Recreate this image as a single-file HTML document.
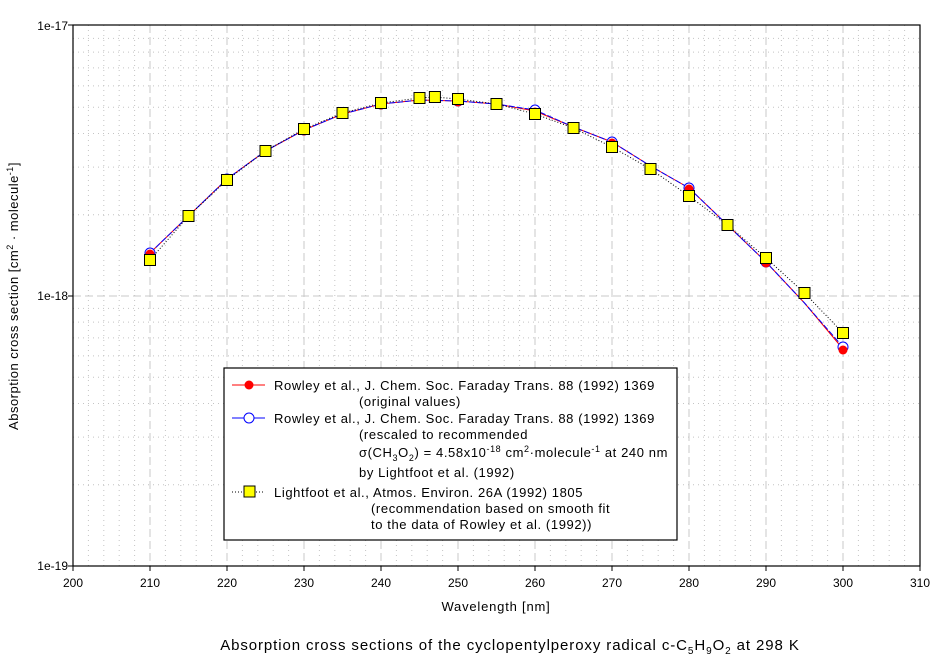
<!DOCTYPE html>
<html><head><meta charset="utf-8"><style>
body{margin:0;background:#fff;}
svg text{font-family:"Liberation Sans",Arial,sans-serif;fill:#000;}
</style></head><body>
<svg width="944" height="662" xmlns="http://www.w3.org/2000/svg">
<g id="grid"></g>
<g id="data"></g>
<rect x="73" y="25" width="847" height="541" fill="none" stroke="#000" stroke-width="1.2"/>
<g font-size="12" text-anchor="end">
<text x="68" y="30">1e-17</text>
<text x="68" y="300">1e-18</text>
<text x="68" y="570">1e-19</text>
</g>
<g id="xt" font-size="12" text-anchor="middle"></g>
<text x="496" y="611" font-size="13" text-anchor="middle" letter-spacing="0.8">Wavelength [nm]</text>
<text transform="translate(18,296) rotate(-90)" font-size="13" text-anchor="middle" letter-spacing="0.5">Absorption cross section [cm<tspan font-size="9" dy="-5">2</tspan><tspan dy="5"> · molecule</tspan><tspan font-size="9" dy="-5">-1</tspan><tspan dy="5">]</tspan></text>
<text x="510" y="650" font-size="15" text-anchor="middle" letter-spacing="0.9">Absorption cross sections of the cyclopentylperoxy radical c-C<tspan font-size="10" dy="4">5</tspan><tspan dy="-4">H</tspan><tspan font-size="10" dy="4">9</tspan><tspan dy="-4">O</tspan><tspan font-size="10" dy="4">2</tspan><tspan dy="-4">  at 298 K</tspan></text>
<rect x="224" y="368" width="453" height="172" fill="#fff" stroke="#000" stroke-width="1.2"/>
<g font-size="13" letter-spacing="0.6">
<line x1="232" y1="385" x2="265" y2="385" stroke="red"/><circle cx="249" cy="385" r="4.5" fill="red"/>
<text x="274" y="390">Rowley et al., J. Chem. Soc. Faraday Trans. 88 (1992) 1369</text>
<text x="359" y="406">(original values)</text>
<line x1="232" y1="418" x2="265" y2="418" stroke="blue"/><circle cx="249" cy="418" r="5" fill="#fff" stroke="blue"/>
<text x="274" y="423">Rowley et al., J. Chem. Soc. Faraday Trans. 88 (1992) 1369</text>
<text x="359" y="439">(rescaled to recommended</text>
<text x="359" y="457">σ(CH<tspan font-size="9" dy="4">3</tspan><tspan dy="-4">O</tspan><tspan font-size="9" dy="4">2</tspan><tspan dy="-4">) = 4.58x10</tspan><tspan font-size="9" dy="-5">-18</tspan><tspan dy="5"> cm</tspan><tspan font-size="9" dy="-5">2</tspan><tspan dy="5">·molecule</tspan><tspan font-size="9" dy="-5">-1</tspan><tspan dy="5"> at 240 nm</tspan></text>
<text x="359" y="477">by Lightfoot et al. (1992)</text>
<line x1="232" y1="492" x2="265" y2="492" stroke="#000" stroke-dasharray="1,2"/><rect x="244" y="486" width="11" height="11" fill="#ff0" stroke="#000"/>
<text x="274" y="497">Lightfoot et al., Atmos. Environ. 26A (1992) 1805</text>
<text x="371" y="513">(recommendation based on smooth fit</text>
<text x="371" y="529">to the data of Rowley et al. (1992))</text>
</g>
</svg>
<script>
const ns="http://www.w3.org/2000/svg";
function el(p,t,a){const e=document.createElementNS(ns,t);for(const k in a)e.setAttribute(k,a[k]);p.appendChild(e);return e;}
const X=n=>73+(n-200)*7.7;
const g=document.getElementById('grid'),d=document.getElementById('data'),xt=document.getElementById('xt');
for(let n=202;n<310;n+=2){if(n%10==0)continue;el(g,'line',{x1:X(n),x2:X(n),y1:25,y2:566,stroke:'#c4c4c4','stroke-dasharray':'1,4'});}
for(let k=0;k<2;k++)for(let m=2;m<10;m++){const y=566-270*(k+Math.log10(m));el(g,'line',{x1:73,x2:920,y1:y,y2:y,stroke:'#c4c4c4','stroke-dasharray':'1,4'});}
for(let n=210;n<310;n+=10)el(g,'line',{x1:X(n),x2:X(n),y1:25,y2:566,stroke:'#c8c8c8','stroke-dasharray':'8,4'});
el(g,'line',{x1:73,x2:920,y1:296,y2:296,stroke:'#c8c8c8','stroke-dasharray':'8,4'});
for(let n=200;n<=310;n+=10){el(g,'line',{x1:X(n),x2:X(n),y1:566,y2:571,stroke:'#000'});const t=el(xt,'text',{x:X(n),y:587});t.textContent=n;}
[25,296,566].forEach(y=>el(g,'line',{x1:68,x2:73,y1:y,y2:y,stroke:'#000'}));
const rb=[[210,253],[215,216],[220,179],[225,151],[230,130],[235,114],[240,104],[245,100],[250,101],[255,104],[260,111],[265,127],[270,142],[275,166],[280,188],[285,225],[290,262],[295,303],[300,349]];
const bb=rb.map(p=>[p[0],p[1]-(p[0]==260?1:p[0]==300?2:0)]);
const yb=[[210,260],[215,216],[220,180],[225,151],[230,129],[235,113],[240,103],[245,98],[247,97],[250,99],[255,104],[260,114],[265,128],[270,147],[275,169],[280,196],[285,225],[290,258],[295,293],[300,333]];
const pts=a=>a.map(p=>X(p[0])+','+p[1]).join(' ');
el(d,'polyline',{points:pts(rb),fill:'none',stroke:'red'});
el(d,'polyline',{points:pts(bb),fill:'none',stroke:'blue','stroke-dasharray':'6,2'});
el(d,'polyline',{points:pts(yb),fill:'none',stroke:'#000','stroke-dasharray':'1,2'});
bb.forEach(p=>{if(p[0]%10==0)el(d,'circle',{cx:X(p[0]),cy:p[1],r:5,fill:'#fff',stroke:'blue'});});
rb.forEach(p=>{if(p[0]%10==0)el(d,'circle',{cx:X(p[0]),cy:p[1]+1,r:4.5,fill:'red'});});
yb.forEach(p=>el(d,'rect',{x:X(p[0])-5.5,y:p[1]-5.5,width:11,height:11,fill:'#ff0',stroke:'#000'}));
</script>
</body></html>
